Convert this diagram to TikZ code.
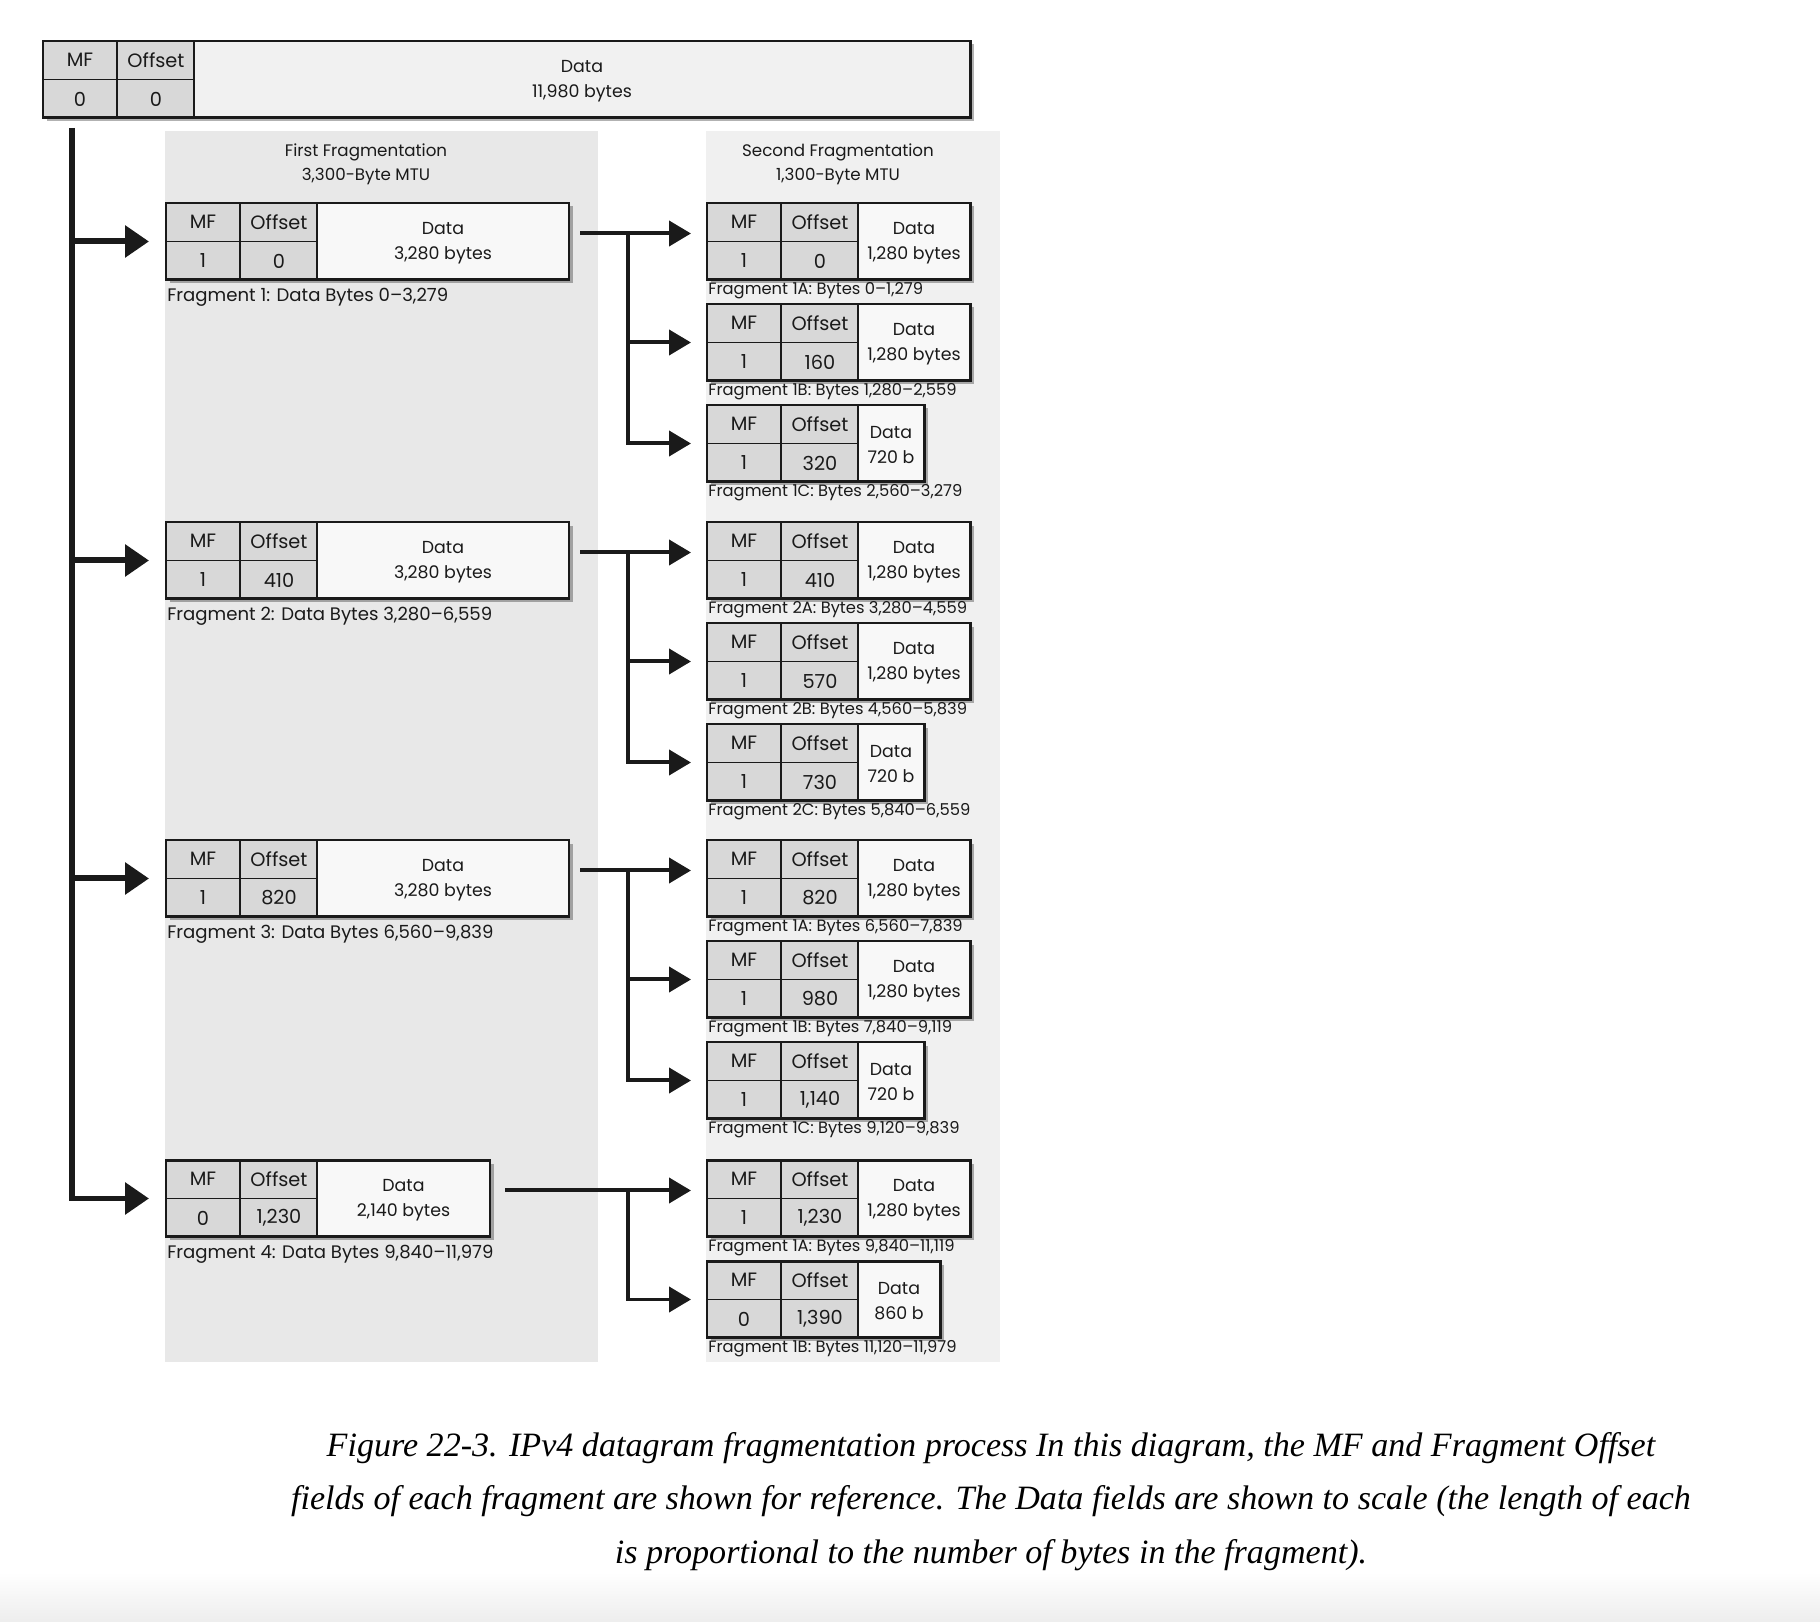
\documentclass[tikz,border=0pt]{standalone}
\usepackage{fontspec}
\newfontfamily\futura{Poppins}
\newfontfamily\capserif{Liberation Serif}
\usetikzlibrary{arrows.meta,calc,shadows}

\definecolor{ink}{HTML}{1A1A1A}
\definecolor{cellgray}{HTML}{D8D8D8}
\definecolor{datafill}{HTML}{F8F8F8}
\definecolor{topfill}{HTML}{F1F1F1}
\definecolor{panelA}{HTML}{E8E8E8}
\definecolor{panelB}{HTML}{F0F0F0}

\tikzset{
  pktbox/.style={draw=ink, line width=1.7pt, fill=datafill, inner sep=0pt, outer sep=0pt,
    minimum height=1.54cm,
    drop shadow={shadow xshift=0.07cm, shadow yshift=-0.07cm, fill=black, opacity=0.3}},
  pktedge/.style={draw=ink, line width=1.7pt},
  cellline/.style={draw=ink, line width=1.1pt},
  celltext/.style={inner sep=0pt, text=ink, font=\futura\fontsize{11}{13}\selectfont},
  datatext/.style={inner sep=0pt, text=ink, align=center, font=\futura\fontsize{9.9}{14}\selectfont},
  titletext/.style={inner sep=0pt, text=ink, align=center, font=\futura\fontsize{9.5}{13.5}\selectfont},
  biglabel/.style={inner sep=0pt, anchor=west, text=ink, font=\futura\fontsize{10.3}{12}\selectfont},
  smalllabel/.style={inner sep=0pt, anchor=west, text=ink, font=\futura\fontsize{9.3}{10}\selectfont},
  captext/.style={inner sep=0pt, text=black, font=\capserif\itshape\fontsize{19.4}{22}\selectfont},
  trunkline/.style={draw=ink, line width=0.12cm, -{Triangle[length=0.48cm,width=0.62cm]}, shorten >=0.34cm},
  subarrow/.style={draw=ink, line width=0.08cm, -{Triangle[length=0.44cm,width=0.5cm]}, shorten >=0.32cm},
}

% packet box: [style] name, left, top, right, MF, offset, data text
\newcommand{\pkt}[8][]{%
  \node[pktbox, #1, minimum width={(#5-#3)*0.02cm}, anchor=north west] (#2) at (#3,#4) {};
  \fill[cellgray] (#2.north west) rectangle ($(#2.south west)+(151,0)$);
  \draw[cellline] ($(#2.north west)+(74,0)$) -- ($(#2.south west)+(74,0)$);
  \draw[cellline] ($(#2.north west)+(151,0)$) -- ($(#2.south west)+(151,0)$);
  \draw[cellline] (#2.west) -- ($(#2.west)+(151,0)$);
  \draw[pktedge] (#2.north west) rectangle (#2.south east);
  \node[celltext] (#2mfh) at ($(#2.north west)+(37,19)$) {MF};
  \node[celltext] (#2ofh) at ($(#2.north west)+(113,19)$) {Offset};
  \node[celltext] (#2mf) at ($(#2.north west)+(37,58)$) {#6};
  \node[celltext] (#2of) at ($(#2.north west)+(113,58)$) {#7};
  \node[datatext] (#2dt) at ({(#3+151+#5)/2},{#4+40}) {#8};
}

\begin{document}
\begin{tikzpicture}[x=0.02cm, y=-0.02cm]
\useasboundingbox (0,0) rectangle (1820,1622);
\fill[white] (0,0) rectangle (1820,1622);
\shade[top color=white, bottom color=black!7] (0,1572) rectangle (1820,1622);

% stage panels
\fill[panelA] (165,131) rectangle (598,1362);
\fill[panelB] (706,131) rectangle (1000,1362);
\node[titletext] (title1) at (366,164) {First Fragmentation\\3,300-Byte MTU};
\node[titletext] (title2) at (838,164) {Second Fragmentation\\1,300-Byte MTU};

% original datagram
\pkt[fill=topfill]{top}{43}{41}{970}{0}{0}{Data\\11,980 bytes}

% first fragmentation
\pkt{f1}{166}{203}{569}{1}{0}{Data\\3,280 bytes}
\pkt{f2}{166}{522}{569}{1}{410}{Data\\3,280 bytes}
\pkt{f3}{166}{840}{569}{1}{820}{Data\\3,280 bytes}
\pkt{f4}{166}{1160}{490}{0}{1,230}{Data\\2,140 bytes}
\node[biglabel] (f1l) at ($(f1.south west)+(1,17)$) {Fragment 1: Data Bytes 0–3,279};
\node[biglabel] (f2l) at ($(f2.south west)+(1,17)$) {Fragment 2: Data Bytes 3,280–6,559};
\node[biglabel] (f3l) at ($(f3.south west)+(1,17)$) {Fragment 3: Data Bytes 6,560–9,839};
\node[biglabel] (f4l) at ($(f4.south west)+(1,17)$) {Fragment 4: Data Bytes 9,840–11,979};

% second fragmentation
\pkt{f1a}{707}{203}{970}{1}{0}{Data\\1,280 bytes}
\pkt{f1b}{707}{304}{970}{1}{160}{Data\\1,280 bytes}
\pkt{f1c}{707}{405}{924}{1}{320}{Data\\720 b}
\pkt{f2a}{707}{522}{970}{1}{410}{Data\\1,280 bytes}
\pkt{f2b}{707}{623}{970}{1}{570}{Data\\1,280 bytes}
\pkt{f2c}{707}{724}{924}{1}{730}{Data\\720 b}
\pkt{f3a}{707}{840}{970}{1}{820}{Data\\1,280 bytes}
\pkt{f3b}{707}{941}{970}{1}{980}{Data\\1,280 bytes}
\pkt{f3c}{707}{1042}{924}{1}{1,140}{Data\\720 b}
\pkt{f4a}{707}{1160}{970}{1}{1,230}{Data\\1,280 bytes}
\pkt{f4b}{707}{1261}{940}{0}{1,390}{Data\\860 b}
\node[smalllabel] (f1al) at ($(f1a.south west)+(1,11)$) {Fragment 1A: Bytes 0–1,279};
\node[smalllabel] (f1bl) at ($(f1b.south west)+(1,11)$) {Fragment 1B: Bytes 1,280–2,559};
\node[smalllabel] (f1cl) at ($(f1c.south west)+(1,11)$) {Fragment 1C: Bytes 2,560–3,279};
\node[smalllabel] (f2al) at ($(f2a.south west)+(1,11)$) {Fragment 2A: Bytes 3,280–4,559};
\node[smalllabel] (f2bl) at ($(f2b.south west)+(1,11)$) {Fragment 2B: Bytes 4,560–5,839};
\node[smalllabel] (f2cl) at ($(f2c.south west)+(1,11)$) {Fragment 2C: Bytes 5,840–6,559};
\node[smalllabel] (f3al) at ($(f3a.south west)+(1,11)$) {Fragment 1A: Bytes 6,560–7,839};
\node[smalllabel] (f3bl) at ($(f3b.south west)+(1,11)$) {Fragment 1B: Bytes 7,840–9,119};
\node[smalllabel] (f3cl) at ($(f3c.south west)+(1,11)$) {Fragment 1C: Bytes 9,120–9,839};
\node[smalllabel] (f4al) at ($(f4a.south west)+(1,11)$) {Fragment 1A: Bytes 9,840–11,119};
\node[smalllabel] (f4bl) at ($(f4b.south west)+(1,11)$) {Fragment 1B: Bytes 11,120–11,979};

% trunk from the original datagram to the first fragments
\coordinate (trunk) at (72,128);
\draw[trunkline] (trunk) |- (f4.west);
\foreach \f in {f1,f2,f3} \draw[trunkline] (trunk |- \f.west) -- (\f.west);

% branches to the second fragments
\coordinate (branchx) at (628,0);
\foreach \g/\gap in {1/11,2/11,3/11,4/15} {
  \coordinate (s\g) at ($(f\g.east)+(\gap,-8)$);
  \draw[subarrow] (s\g) -- (s\g -| f\g a.west);
}
\foreach \t in {f1b,f1c} \draw[subarrow] (branchx |- s1) |- (\t.west);
\foreach \t in {f2b,f2c} \draw[subarrow] (branchx |- s2) |- (\t.west);
\foreach \t in {f3b,f3c} \draw[subarrow] (branchx |- s3) |- (\t.west);
\draw[subarrow] (branchx |- s4) |- (f4b.west);

% caption
\node[captext] (cap1) at (991,1448) {Figure 22-3. IPv4 datagram fragmentation process In this diagram, the MF and Fragment Offset};
\node[captext] (cap2) at (991,1501) {fields of each fragment are shown for reference. The Data fields are shown to scale (the length of each};
\node[captext] (cap3) at (991,1555) {is proportional to the number of bytes in the fragment).};
\end{tikzpicture}
\end{document}
